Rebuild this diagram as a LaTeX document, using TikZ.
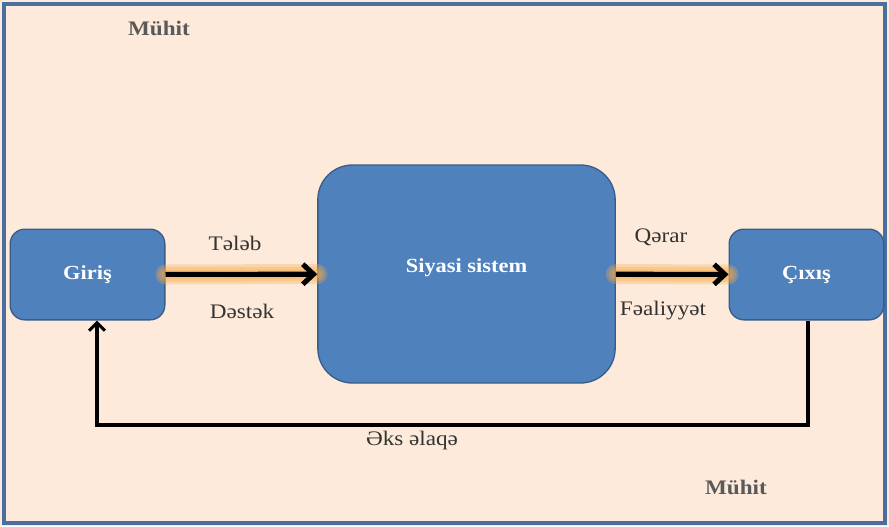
\documentclass[tikz,border=0pt]{standalone}
\usepackage{fontspec}
\setmainfont[FakeStretch=1.12]{Liberation Serif}
\usetikzlibrary{arrows.meta, positioning}
\definecolor{peach}{RGB}{253, 234, 218}
\definecolor{boxblue}{RGB}{79, 129, 189}
\definecolor{boxedge}{RGB}{56, 93, 138}
\definecolor{frame}{RGB}{74, 110, 160}
\definecolor{glow}{RGB}{249, 170, 70}
\definecolor{envgray}{RGB}{89, 89, 89}

\begin{document}
\begin{tikzpicture}[x=0.75pt, y=-0.75pt,
    box/.style={rectangle, rounded corners=11pt, draw=boxedge, line width=1pt,
                fill=boxblue, text=white, font=\fontsize{15}{17}\selectfont\bfseries,
                minimum width=116pt, minimum height=68pt},
    lbl/.style={font=\fontsize{15.5}{17}\selectfont, text=black!80},
    env/.style={font=\fontsize{15.5}{17}\selectfont\bfseries, text=envgray},
    flow/.style={line width=3.8pt, -{Straight Barb[length=8pt, width=15pt]}},
    halo/.style={line width=#1, glow, opacity=0.3, line cap=round}]

    % background
    \useasboundingbox (0,0) rectangle (889,526);
    \fill[peach] (0,0) rectangle (889,526);
    \draw[frame, line width=2.5pt] (4,4) rectangle (885,523);

    % environment
    \node[env] (env1) at (159, 28) {Mühit};
    \node[env] (env2) at (736, 487) {Mühit};

    % boxes
    \node[box] (giris) at (87.5, 274.5) {Giriş};
    \node[box, rounded corners=26pt, minimum width=223pt, minimum height=163.5pt]
        (siyasi) at (466.5, 274) {\raisebox{12pt}{Siyasi sistem}};
    \node[box] (cixis) at (806.5, 274.5) {Çıxış};

    % glow behind arrows
    \foreach \w in {15pt, 11pt, 7pt} {
        \draw[halo=\w] (giris.east) -- (siyasi.west);
        \draw[halo=\w] (siyasi.east) -- (cixis.west);
    }

    % arrows
    \draw[flow] (giris) -- (siyasi);
    \draw[flow] (siyasi) -- (cixis);
    \node[lbl] (telab) at (235, 243) {Tələb};
    \node[lbl] (destek) at (242, 311) {Dəstək};
    \node[lbl] (qerar) at (661, 237) {Qərar};
    \node[lbl] (fealiyyet) at (663, 311) {Fəaliyyət};

    % feedback
    \coordinate (fbR) at (808, 425);
    \coordinate (fbL) at (97, 425);
    \draw[line width=2.3pt, -{Straight Barb[length=6pt, width=12pt]}]
        (cixis.south -| fbR) -- (fbR) -- (fbL) -- (giris.south -| fbL);
    \node[lbl] (eks) at (412, 441) {Əks əlaqə};
\end{tikzpicture}
\end{document}
